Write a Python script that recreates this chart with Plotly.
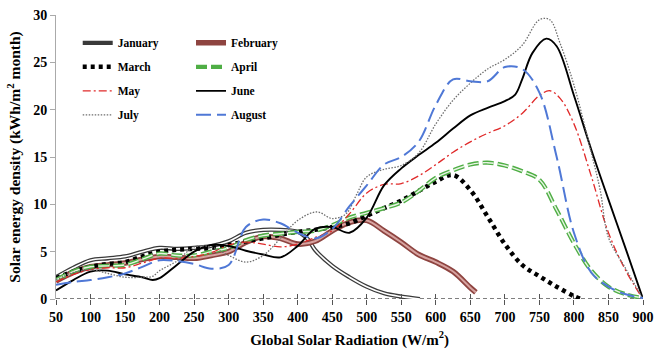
import plotly.graph_objects as go

# ---------------- data ----------------
jan_x = [50, 75, 100, 125, 150, 175, 200, 225, 250, 275, 300, 325, 350, 375, 400, 415, 425, 450, 475, 500, 525, 550, 577]
jan_y = [2.3, 3.3, 4.1, 4.3, 4.5, 5.0, 5.4, 5.3, 5.4, 5.6, 6.1, 7.0, 7.3, 7.3, 7.1, 6.3, 5.2, 3.5, 2.3, 1.3, 0.6, 0.25, 0.0]

feb_x = [50, 75, 100, 125, 150, 175, 200, 225, 250, 275, 300, 325, 350, 375, 400, 425, 450, 475, 500, 525, 550, 575, 600, 625, 650, 658]
feb_y = [1.9, 2.8, 3.4, 3.6, 3.8, 4.2, 4.5, 4.4, 4.3, 4.6, 5.0, 6.0, 6.6, 6.4, 5.8, 6.1, 7.2, 8.1, 8.3, 7.2, 6.0, 4.7, 3.9, 2.9, 1.2, 0.7]

mar_x = [50, 75, 100, 125, 150, 175, 200, 225, 250, 275, 300, 325, 350, 375, 400, 425, 450, 475, 500, 525, 550, 575, 600, 625, 650, 675, 700, 725, 750, 775, 800, 810]
mar_y = [2.2, 2.9, 3.4, 3.7, 3.9, 4.5, 5.0, 5.2, 5.3, 5.4, 5.7, 6.1, 6.4, 6.8, 7.1, 7.3, 7.6, 8.0, 8.8, 9.6, 10.4, 11.4, 12.4, 13.1, 11.5, 8.7, 5.8, 3.6, 2.4, 1.3, 0.3, 0.0]

apr_x = [50, 75, 100, 125, 150, 175, 200, 225, 250, 275, 300, 325, 350, 375, 400, 425, 450, 475, 500, 525, 550, 575, 600, 625, 650, 675, 700, 725, 750, 775, 800, 825, 850, 875, 900]
apr_y = [2.0, 2.9, 3.4, 3.5, 3.6, 4.2, 4.8, 4.6, 4.6, 5.0, 5.4, 6.2, 6.7, 6.9, 7.1, 7.2, 7.8, 8.6, 9.1, 9.6, 10.2, 11.4, 12.8, 13.6, 14.2, 14.4, 14.1, 13.5, 12.6, 9.4, 5.9, 3.0, 1.3, 0.5, 0.1]

may_x = [50, 75, 100, 125, 150, 175, 200, 225, 250, 275, 300, 325, 350, 375, 400, 425, 450, 475, 500, 525, 550, 575, 600, 625, 650, 675, 700, 725, 750, 765, 780, 800, 825, 850, 875, 900]
may_y = [1.8, 2.6, 3.1, 3.3, 3.3, 3.8, 4.3, 4.3, 4.5, 4.9, 5.7, 6.0, 5.8, 5.5, 5.8, 6.5, 7.2, 9.0, 11.2, 12.1, 12.2, 13.0, 14.2, 15.5, 16.6, 17.5, 18.3, 19.6, 21.5, 22.0, 21.2, 18.5, 13.0, 7.0, 3.0, 0.0]

jun_x = [50, 75, 100, 125, 150, 175, 190, 200, 225, 250, 275, 300, 325, 350, 375, 400, 425, 450, 475, 500, 525, 550, 575, 600, 625, 650, 675, 700, 715, 725, 740, 760, 775, 800, 825, 850, 875, 900]
jun_y = [0.9, 2.0, 2.9, 3.0, 2.6, 2.3, 2.0, 2.2, 3.6, 5.0, 5.7, 5.6, 5.1, 4.7, 4.4, 5.6, 7.4, 7.6, 7.0, 8.6, 12.0, 13.8, 15.2, 16.5, 18.0, 19.4, 20.2, 20.9, 21.6, 23.2, 26.0, 27.5, 26.7, 21.5, 15.8, 10.5, 5.3, 0.0]

jul_x = [50, 75, 100, 125, 150, 175, 190, 200, 225, 250, 275, 300, 325, 350, 375, 400, 428, 450, 470, 485, 500, 525, 550, 575, 600, 625, 650, 675, 700, 725, 750, 765, 780, 800, 825, 838, 850, 875, 900]
jul_y = [2.0, 2.8, 3.1, 2.7, 2.3, 2.3, 2.4, 3.0, 4.0, 5.5, 5.5, 4.6, 3.9, 4.6, 6.4, 8.3, 9.2, 8.5, 9.0, 11.0, 12.9, 13.7, 14.1, 15.4, 18.5, 21.0, 22.8, 24.3, 25.3, 26.8, 29.5, 29.5, 27.0, 22.6, 15.5, 11.5, 6.5, 3.2, 0.0]

aug_x = [50, 75, 100, 125, 150, 175, 200, 225, 250, 275, 300, 325, 350, 375, 400, 425, 450, 475, 500, 525, 550, 575, 600, 625, 650, 675, 700, 725, 750, 775, 800, 825, 850, 875, 900]
aug_y = [1.5, 1.8, 2.0, 2.3, 2.7, 3.4, 4.1, 4.0, 3.7, 3.2, 3.6, 7.6, 8.4, 8.0, 7.0, 6.4, 7.4, 9.8, 12.0, 14.2, 15.0, 16.6, 20.5, 23.2, 23.0, 23.0, 24.5, 24.3, 21.8, 15.0, 7.0, 2.8, 1.3, 0.5, 0.1]

x_ticks = list(range(50, 901, 50))
y_ticks = [0, 5, 10, 15, 20, 25, 30]

FONT = "Liberation Serif"

fig = go.Figure()

def add(x, y, name, color, width, dash="solid", legend="legend", show=True, group=None):
    fig.add_trace(go.Scatter(
        x=x, y=y, name=name, mode="lines",
        line=dict(color=color, width=width, dash=dash, shape="spline", smoothing=1.0),
        legend=legend, showlegend=show, legendgroup=group or name,
        hoverinfo="skip"))

# January: double line
add(jan_x, jan_y, "January", "#3a3a3a", 4.2, legend="legend")
add(jan_x, jan_y, "January", "#ffffff", 1.6, legend="legend", show=False, group="January")
# February: brown thick with lighter core
add(feb_x, feb_y, "February", "#8e4440", 5.5, legend="legend2")
add(feb_x, feb_y, "February", "#d7a3a0", 2.0, legend="legend2", show=False, group="February")
# March: big dots
add(mar_x, mar_y, "March", "#000000", 4.5, dash="4px,4px", legend="legend")
# April: green dashed double
add(apr_x, apr_y, "April", "#4fae45", 4.2, dash="11px,4px", legend="legend2")
add(apr_x, apr_y, "April", "#e8f5e4", 1.4, dash="11px,4px", legend="legend2", show=False, group="April")
# May: red dash-dot
add(may_x, may_y, "May", "#e02a2a", 1.3, dash="8px,3px,2px,3px", legend="legend")
# June: black solid
add(jun_x, jun_y, "June", "#000000", 1.9, legend="legend2")
# July: gray dotted
add(jul_x, jul_y, "July", "#6e6e6e", 1.3, dash="1.5px,1.5px", legend="legend")
# August: blue long dash
add(aug_x, aug_y, "August", "#4f78d6", 2.0, dash="15px,6px", legend="legend2")

# dashed baseline at y = 0
fig.add_shape(type="line", xref="x", yref="y", x0=50, x1=900, y0=0, y1=0,
              line=dict(color="#000000", width=1.2, dash="4px,3px"), layer="below")

legend_common = dict(
    font=dict(family=FONT, size=11.5, color="#000000", weight="bold"),
    bgcolor="rgba(0,0,0,0)", borderwidth=0, tracegroupgap=5,
    xanchor="left", yanchor="top", itemwidth=30,
)

fig.update_layout(
    width=654, height=353,
    margin=dict(l=56, r=11, t=15, b=54),
    paper_bgcolor="white", plot_bgcolor="white",
    font=dict(family=FONT, size=13, color="#000000", weight="bold"),
    legend=dict(x=0.037, y=0.953, **legend_common),
    legend2=dict(x=0.23, y=0.953, **legend_common),
    xaxis=dict(
        range=[50, 900], tickvals=x_ticks, ticktext=[str(v) for v in x_ticks],
        showgrid=False, zeroline=False, showline=False, automargin=False,
        ticks="outside", ticklen=5, tickcolor="#555", tickwidth=1,
        tickfont=dict(family=FONT, size=14, color="#000", weight="bold"),
        title=dict(text="Global Solar Radiation (W/m<sup>2</sup>)", standoff=10,
                   font=dict(family=FONT, size=15, color="#000", weight="bold")),
    ),
    xaxis2=dict(
        range=[50, 900], tickvals=x_ticks, overlaying="x", side="bottom",
        showgrid=False, zeroline=False, showline=False, showticklabels=False,
        automargin=False,
        ticks="inside", ticklen=5, tickcolor="#555", tickwidth=1,
    ),
    yaxis=dict(
        range=[0, 30], tickvals=y_ticks, automargin=False,
        showgrid=False, zeroline=False, showline=True, linecolor="#aaaaaa", linewidth=1,
        ticks="outside", ticklen=5, tickcolor="#aaaaaa",
        tickfont=dict(family=FONT, size=14, color="#000", weight="bold"),
        title=dict(text="Solar energy density (kWh/m<sup>2</sup> month)", standoff=8,
                   font=dict(family=FONT, size=15.5, color="#000", weight="bold")),
    ),
)

# invisible trace to activate the overlaid tick axis
fig.add_trace(go.Scatter(x=[50, 900], y=[None, None], xaxis="x2", showlegend=False,
                         mode="lines", hoverinfo="skip"))

fig.write_html("out.html")
